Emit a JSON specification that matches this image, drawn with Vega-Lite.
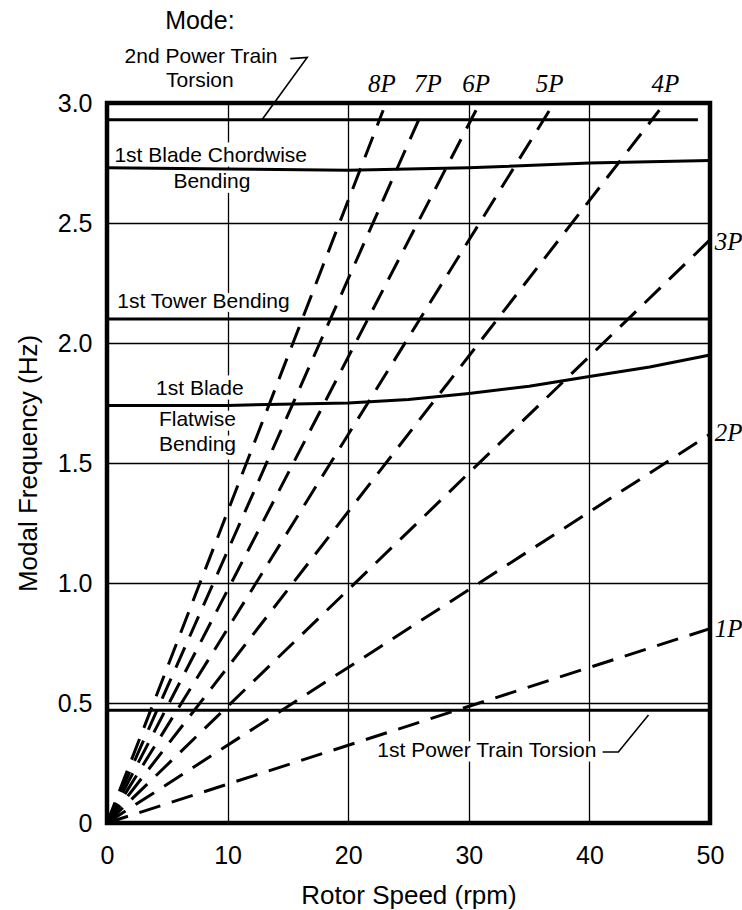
{
  "$schema": "https://vega.github.io/schema/vega-lite/v6.json",
  "width": 603,
  "height": 720,
  "autosize": {"type": "none"},
  "padding": {"left": 107, "top": 103, "right": 32, "bottom": 87},
  "background": "white",
  "config": {
    "font": "Liberation Sans",
    "view": {"stroke": "black", "strokeWidth": 4.5},
    "axis": {
      "grid": true,
      "gridColor": "black",
      "gridOpacity": 1,
      "gridWidth": 1.3,
      "domain": false,
      "ticks": false,
      "labelColor": "black",
      "titleColor": "black",
      "labelFont": "Liberation Sans",
      "titleFont": "Liberation Sans",
      "titleFontWeight": "normal",
      "labelFontSize": 25,
      "titleFontSize": 26,
      "labelFlush": false,
      "labelOverlap": false
    }
  },
  "datasets": {
    "modes": [
      {"mode": "2nd Power Train Torsion", "rpm": 0, "hz": 2.93},
      {"mode": "2nd Power Train Torsion", "rpm": 49, "hz": 2.93},
      {"mode": "1st Blade Chordwise Bending", "rpm": 0, "hz": 2.73},
      {"mode": "1st Blade Chordwise Bending", "rpm": 10, "hz": 2.725},
      {"mode": "1st Blade Chordwise Bending", "rpm": 20, "hz": 2.72},
      {"mode": "1st Blade Chordwise Bending", "rpm": 30, "hz": 2.73},
      {"mode": "1st Blade Chordwise Bending", "rpm": 40, "hz": 2.75},
      {"mode": "1st Blade Chordwise Bending", "rpm": 50, "hz": 2.76},
      {"mode": "1st Tower Bending", "rpm": 0, "hz": 2.1},
      {"mode": "1st Tower Bending", "rpm": 50, "hz": 2.1},
      {"mode": "1st Blade Flatwise Bending", "rpm": 0, "hz": 1.74},
      {"mode": "1st Blade Flatwise Bending", "rpm": 10, "hz": 1.74},
      {"mode": "1st Blade Flatwise Bending", "rpm": 20, "hz": 1.75},
      {"mode": "1st Blade Flatwise Bending", "rpm": 25, "hz": 1.765},
      {"mode": "1st Blade Flatwise Bending", "rpm": 30, "hz": 1.79},
      {"mode": "1st Blade Flatwise Bending", "rpm": 35, "hz": 1.82},
      {"mode": "1st Blade Flatwise Bending", "rpm": 40, "hz": 1.86},
      {"mode": "1st Blade Flatwise Bending", "rpm": 45, "hz": 1.9},
      {"mode": "1st Blade Flatwise Bending", "rpm": 50, "hz": 1.95},
      {"mode": "1st Power Train Torsion", "rpm": 0, "hz": 0.47},
      {"mode": "1st Power Train Torsion", "rpm": 50, "hz": 0.47}
    ],
    "excitation": [
      {"order": "1P", "rpm": 0, "hz": 0},
      {"order": "1P", "rpm": 50, "hz": 0.81},
      {"order": "2P", "rpm": 0, "hz": 0},
      {"order": "2P", "rpm": 50, "hz": 1.62},
      {"order": "3P", "rpm": 0, "hz": 0},
      {"order": "3P", "rpm": 50, "hz": 2.43},
      {"order": "4P", "rpm": 0, "hz": 0},
      {"order": "4P", "rpm": 45.8, "hz": 2.97},
      {"order": "5P", "rpm": 0, "hz": 0},
      {"order": "5P", "rpm": 36.7, "hz": 2.97},
      {"order": "6P", "rpm": 0, "hz": 0},
      {"order": "6P", "rpm": 30.6, "hz": 2.97},
      {"order": "7P", "rpm": 0, "hz": 0},
      {"order": "7P", "rpm": 26.2, "hz": 2.97},
      {"order": "8P", "rpm": 0, "hz": 0},
      {"order": "8P", "rpm": 22.9, "hz": 2.97}
    ],
    "leaders": [
      {"id": "a", "seq": 1, "rpm": 15.2, "hz": 3.185},
      {"id": "a", "seq": 2, "rpm": 16.6, "hz": 3.19},
      {"id": "a", "seq": 3, "rpm": 12.85, "hz": 2.93},
      {"id": "b", "seq": 1, "rpm": 41.1, "hz": 0.296},
      {"id": "b", "seq": 2, "rpm": 42.4, "hz": 0.296},
      {"id": "b", "seq": 3, "rpm": 44.9, "hz": 0.45}
    ],
    "notes": [
      {"label": "2nd Power Train", "rpm": 7.8, "hz": 3.19},
      {"label": "Torsion", "rpm": 7.7, "hz": 3.09},
      {"label": "1st Blade Chordwise", "rpm": 8.6, "hz": 2.78},
      {"label": "Bending", "rpm": 8.7, "hz": 2.67},
      {"label": "1st Tower Bending", "rpm": 8.0, "hz": 2.17},
      {"label": "1st Blade", "rpm": 7.7, "hz": 1.81},
      {"label": "Flatwise", "rpm": 7.5, "hz": 1.68},
      {"label": "Bending", "rpm": 7.5, "hz": 1.575},
      {"label": "1st Power Train Torsion", "rpm": 31.5, "hz": 0.3}
    ],
    "heading": [
      {"label": "Mode:", "rpm": 7.7, "hz": 3.34}
    ],
    "toplabels": [
      {"label": "8P", "rpm": 22.8, "hz": 3.08},
      {"label": "7P", "rpm": 26.6, "hz": 3.08},
      {"label": "6P", "rpm": 30.6, "hz": 3.08},
      {"label": "5P", "rpm": 36.7, "hz": 3.08},
      {"label": "4P", "rpm": 46.3, "hz": 3.08}
    ],
    "sidelabels": [
      {"label": "3P", "rpm": 50.4, "hz": 2.42},
      {"label": "2P", "rpm": 50.4, "hz": 1.625},
      {"label": "1P", "rpm": 50.4, "hz": 0.81}
    ]
  },
  "layer": [
    {
      "data": {"name": "notes"},
      "mark": {"type": "text", "font": "Liberation Sans", "fontSize": 21, "color": "white", "stroke": "white", "strokeWidth": 9, "align": "center", "baseline": "middle"},
      "encoding": {
        "x": {
          "field": "rpm",
          "type": "quantitative",
          "scale": {"domain": [0, 50], "nice": false, "zero": false},
          "axis": {
            "title": "Rotor Speed (rpm)",
            "values": [0, 10, 20, 30, 40, 50],
            "labelPadding": 20,
            "titlePadding": 14
          }
        },
        "y": {
          "field": "hz",
          "type": "quantitative",
          "scale": {"domain": [0, 3], "nice": false, "zero": false},
          "axis": {
            "title": "Modal Frequency (Hz)",
            "values": [0, 0.5, 1, 1.5, 2, 2.5, 3],
            "labelExpr": "datum.value == 0 ? '0' : format(datum.value, '.1f')",
            "labelPadding": 15,
            "titlePadding": 16
          }
        },
        "text": {"field": "label", "type": "nominal"}
      }
    },
    {
      "data": {"name": "modes"},
      "mark": {"type": "line", "color": "black", "strokeWidth": 3, "clip": false},
      "encoding": {
        "x": {"field": "rpm", "type": "quantitative"},
        "y": {"field": "hz", "type": "quantitative"},
        "detail": {"field": "mode", "type": "nominal"}
      }
    },
    {
      "data": {"name": "excitation"},
      "mark": {"type": "line", "color": "black", "strokeWidth": 3, "strokeDash": [22, 12], "clip": false},
      "encoding": {
        "x": {"field": "rpm", "type": "quantitative"},
        "y": {"field": "hz", "type": "quantitative"},
        "detail": {"field": "order", "type": "nominal"}
      }
    },
    {
      "data": {"name": "leaders"},
      "mark": {"type": "line", "color": "black", "strokeWidth": 1.6, "clip": false},
      "encoding": {
        "x": {"field": "rpm", "type": "quantitative"},
        "y": {"field": "hz", "type": "quantitative"},
        "detail": {"field": "id", "type": "nominal"},
        "order": {"field": "seq", "type": "quantitative"}
      }
    },
    {
      "data": {"name": "notes"},
      "mark": {"type": "text", "font": "Liberation Sans", "fontSize": 21, "color": "black", "align": "center", "baseline": "middle"},
      "encoding": {
        "x": {"field": "rpm", "type": "quantitative"},
        "y": {"field": "hz", "type": "quantitative"},
        "text": {"field": "label", "type": "nominal"}
      }
    },
    {
      "data": {"name": "heading"},
      "mark": {"type": "text", "font": "Liberation Sans", "fontSize": 25, "color": "black", "align": "center", "baseline": "middle"},
      "encoding": {
        "x": {"field": "rpm", "type": "quantitative"},
        "y": {"field": "hz", "type": "quantitative"},
        "text": {"field": "label", "type": "nominal"}
      }
    },
    {
      "data": {"name": "toplabels"},
      "mark": {"type": "text", "font": "Liberation Serif", "fontStyle": "italic", "fontSize": 25, "color": "black", "align": "center", "baseline": "middle"},
      "encoding": {
        "x": {"field": "rpm", "type": "quantitative"},
        "y": {"field": "hz", "type": "quantitative"},
        "text": {"field": "label", "type": "nominal"}
      }
    },
    {
      "data": {"name": "sidelabels"},
      "mark": {"type": "text", "font": "Liberation Serif", "fontStyle": "italic", "fontSize": 25, "color": "black", "align": "left", "baseline": "middle"},
      "encoding": {
        "x": {"field": "rpm", "type": "quantitative"},
        "y": {"field": "hz", "type": "quantitative"},
        "text": {"field": "label", "type": "nominal"}
      }
    }
  ]
}
